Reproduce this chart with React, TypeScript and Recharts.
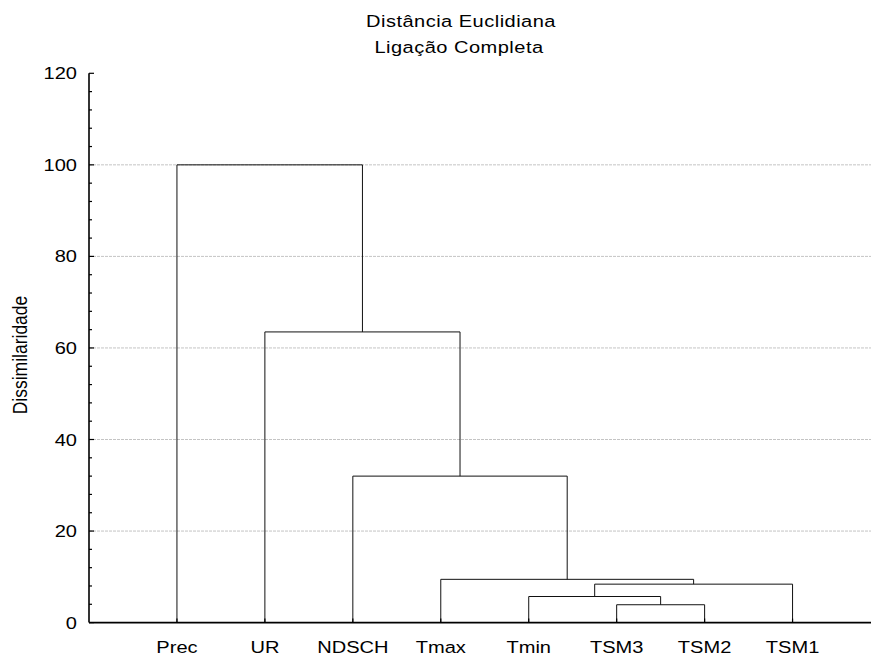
import React from "react";
import { ComposedChart, Line, XAxis, YAxis, ReferenceLine } from "recharts";

// ---- data ----
const leaves = ["Prec", "UR", "NDSCH", "Tmax", "Tmin", "TSM3", "TSM2", "TSM1"];
const leafPositions = [1, 2, 3, 4, 5, 6, 7, 8];
// each merge joins a left and a right member (leaf name or cluster "C<k>") at a height
const mergeLeft = ["TSM3", "Tmin", "C1", "Tmax", "NDSCH", "UR", "Prec"];
const mergeRight = ["TSM2", "C0", "TSM1", "C2", "C3", "C4", "C5"];
const mergeHeights = [3.9, 5.7, 8.4, 9.45, 32, 63.5, 100];
const yTicks = [0, 4, 8, 12, 16, 20, 24, 28, 32, 36, 40, 44, 48, 52, 56, 60, 64, 68, 72, 76, 80, 84, 88, 92, 96, 100, 104, 108, 112, 116, 120];
const gridValues = [20, 40, 60, 80, 100];
const titleLines = ["Distância Euclidiana", "Ligação Completa"];
const yLabel = "Dissimilaridade";

const FONT = '"Liberation Sans", Arial, sans-serif';
const SX = 1.18;

type Pt = { x: number; y: number };
function buildLinks(): Pt[][] {
  const nodes: Record<string, Pt> = {};
  leaves.forEach((n, i) => (nodes[n] = { x: leafPositions[i], y: 0 }));
  return mergeHeights.map((h, k) => {
    const a = nodes[mergeLeft[k]];
    const b = nodes[mergeRight[k]];
    nodes["C" + k] = { x: (a.x + b.x) / 2, y: h };
    return [
      { x: a.x, y: a.y },
      { x: a.x, y: h },
      { x: b.x, y: h },
      { x: b.x, y: b.y },
    ];
  });
}
const links = buildLinks();

const WideText = ({ x, y, anchor, children, size = 17, spacing = 0 }: any) => (
  <text
    transform={`translate(${x},${y}) scale(${SX},1)`}
    x={0}
    y={0}
    textAnchor={anchor}
    fontFamily={FONT}
    fontSize={size}
    letterSpacing={spacing}
    fill="#000"
  >
    {children}
  </text>
);

const LeftTick = (props: any) => {
  const { x, y, payload } = props;
  const major = payload.value % 20 === 0;
  return (
    <g>
      <line x1={x} x2={x + (major ? 5 : 3)} y1={y} y2={y} stroke="#000" strokeWidth={1.2} />
      {major && (
        <WideText x={x - 12} y={y + 6} anchor="end">
          {payload.value}
        </WideText>
      )}
    </g>
  );
};

const BottomTick = (props: any) => {
  const { x, y, payload } = props;
  const idx = leafPositions.indexOf(payload.value);
  return (
    <g>
      <line x1={x} x2={x} y1={y} y2={y - 4} stroke="#000" strokeWidth={1.2} />
      <WideText x={x} y={y + 30.5} anchor="middle">
        {idx >= 0 ? leaves[idx] : ""}
      </WideText>
    </g>
  );
};

const TopTick = (props: any) => {
  const { x, y } = props;
  return <line x1={x} x2={x} y1={y} y2={y + 4} stroke="#000" strokeWidth={1.2} />;
};

export default function App() {
  return (
    <div
      style={{
        position: "absolute",
        left: 0,
        top: 0,
        width: 871,
        height: 657,
        overflow: "hidden",
        background: "#fff",
      }}
    >
      <ComposedChart
        width={900}
        height={657}
        margin={{ top: 73.3, right: 19.5, bottom: 4.4, left: 0 }}
      >
        <XAxis
          xAxisId={0}
          type="number"
          dataKey="x"
          domain={[0, 9]}
          ticks={leafPositions}
          interval={0}
          height={30}
          tickSize={0}
          tickMargin={0}
          tick={<BottomTick />}
          axisLine={{ stroke: "#000", strokeWidth: 1.6 }}
          allowDataOverflow
        />
        <XAxis
          xAxisId="top"
          orientation="top"
          type="number"
          dataKey="x"
          domain={[0, 9]}
          ticks={leafPositions}
          interval={0}
          height={0}
          tickSize={0}
          tickMargin={0}
          tick={<TopTick />}
          axisLine={{ stroke: "#000", strokeWidth: 2 }}
          allowDataOverflow
        />
        <YAxis
          type="number"
          domain={[0, 120]}
          ticks={yTicks}
          interval={0}
          width={89}
          tickSize={0}
          tickMargin={0}
          tick={<LeftTick />}
          axisLine={{ stroke: "#000", strokeWidth: 1.6 }}
          allowDataOverflow
        />
        {gridValues.map((v) => (
          <ReferenceLine
            key={"g" + v}
            y={v}
            stroke="#c4c4c4"
            strokeDasharray="3 1"
            strokeWidth={1}
          />
        ))}
        {links.map((d, i) => (
          <Line
            key={"l" + i}
            data={d}
            dataKey="y"
            type="linear"
            stroke="#111"
            strokeWidth={1}
            dot={false}
            activeDot={false}
            isAnimationActive={false}
            legendType="none"
          />
        ))}
      </ComposedChart>
      <svg
        width={871}
        height={657}
        style={{ position: "absolute", left: 0, top: 0, pointerEvents: "none" }}
      >
        <WideText x={461} y={27.3} anchor="middle" spacing={0.4}>
          {titleLines[0]}
        </WideText>
        <WideText x={459} y={52.5} anchor="middle" spacing={0.4}>
          {titleLines[1]}
        </WideText>
        <text
          x={0}
          y={0}
          transform={`translate(26.5,355) scale(${SX},1) rotate(-90)`}
          textAnchor="middle"
          fontFamily={FONT}
          fontSize={17.5}
          fill="#000"
        >
          {yLabel}
        </text>
      </svg>
    </div>
  );
}
